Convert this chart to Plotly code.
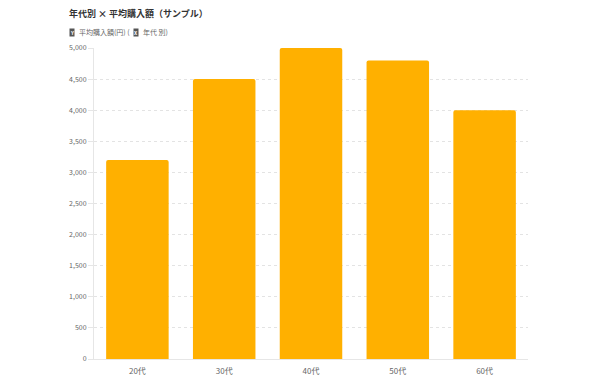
import plotly.graph_objects as go

categories = ["20代", "30代", "40代", "50代", "60代"]
values = [3200, 4500, 5000, 4800, 4000]
y_ticks = [0, 500, 1000, 1500, 2000, 2500, 3000, 3500, 4000, 4500, 5000]
y_tick_labels = ["0", "500", "1,000", "1,500", "2,000", "2,500", "3,000", "3,500", "4,000", "4,500", "5,000"]

title_text = "年代別 × 平均購入額（サンプル）"
y_label = "平均購入額(円) ("
x_label = "年代 別)"

FONT = "Noto Sans CJK JP, Noto Sans, sans-serif"
W_FIG, H_FIG = 600, 380
L, R, T, B = 94, 72, 48, 21
PW = W_FIG - L - R
PH = H_FIG - T - B


def px(xpx):
    return (xpx - L) / PW


def py(ypx):
    return 1 + (T - ypx) / PH


fig = go.Figure(
    go.Bar(
        x=categories,
        y=values,
        marker=dict(color="#FFB000", line=dict(width=0)),
        hoverinfo="skip",
    )
)

fig.update_layout(
    width=W_FIG,
    height=H_FIG,
    margin=dict(l=L, r=R, t=T, b=B, autoexpand=False),
    paper_bgcolor="white",
    plot_bgcolor="white",
    bargap=0.28,
    barcornerradius=2,
    showlegend=False,
    font=dict(family=FONT, size=8, color="#666"),
)

fig.update_xaxes(
    automargin=False,
    showgrid=False,
    showline=True,
    linecolor="#e6e6e6",
    linewidth=1,
    ticks="",
    tickfont=dict(size=8, color="#666"),
    ticklabelstandoff=4,
)
fig.update_yaxes(
    automargin=False,
    range=[0, 5000],
    tickvals=y_ticks,
    ticktext=y_tick_labels,
    showgrid=True,
    gridcolor="#e3e3e3",
    griddash="dot",
    gridwidth=1,
    showline=True,
    linecolor="#e6e6e6",
    linewidth=1,
    ticks="outside",
    ticklen=5,
    tickcolor="#e6e6e6",
    tickfont=dict(size=7, color="#666"),
    zeroline=False,
)

annotations = [
    dict(text="<b>" + title_text + "</b>", x=px(67), y=py(14), xanchor="left", yanchor="middle",
         font=dict(size=9, color="#333", family=FONT)),
    dict(text="<b>Y</b>", x=px(69), y=py(32), xanchor="left", yanchor="middle",
         bgcolor="#555", borderpad=0, font=dict(size=5, color="white", family=FONT)),
    dict(text=y_label, x=px(77), y=py(32), xanchor="left", yanchor="middle",
         font=dict(size=7, color="#666", family=FONT)),
    dict(text="<b>X</b>", x=px(133), y=py(32), xanchor="left", yanchor="middle",
         bgcolor="#555", borderpad=0, font=dict(size=5, color="white", family=FONT)),
    dict(text=x_label, x=px(141), y=py(32), xanchor="left", yanchor="middle",
         font=dict(size=7, color="#666", family=FONT)),
]
for a in annotations:
    a.update(xref="paper", yref="paper", showarrow=False)
fig.update_layout(annotations=annotations)

fig.write_html("out.html")
